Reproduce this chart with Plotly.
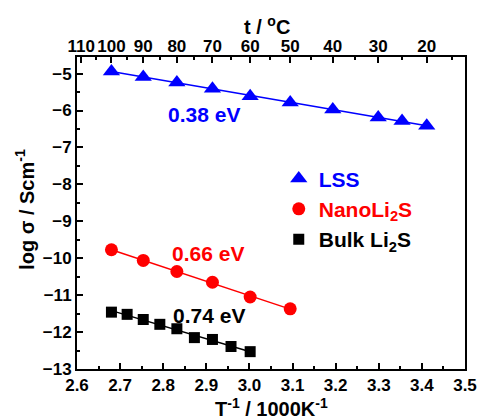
import numpy as np
import plotly.graph_objects as go

# ---- data ----
lss_temp_c = [100, 90, 80, 70, 60, 50, 40, 30, 25, 20]
lss_logsigma = [-4.94, -5.09, -5.24, -5.41, -5.61, -5.78, -5.97, -6.19, -6.28, -6.41]

nano_temp_c = [100, 90, 80, 70, 60, 50]
nano_logsigma = [-9.77, -10.06, -10.36, -10.65, -11.05, -11.37]

bulk_temp_c = [100, 95, 90, 85, 80, 75, 70, 65, 60]
bulk_logsigma = [-11.46, -11.52, -11.66, -11.79, -11.91, -12.15, -12.20, -12.39, -12.53]

top_major_c = [110, 100, 90, 80, 70, 60, 50, 40, 30, 20]
top_minor_c = [105, 95, 85, 75, 65, 55, 45, 35, 25, 15]

ea_labels = ["0.38 eV", "0.66 eV", "0.74 eV"]


def inv_t(tc):
    return [1000.0 / (t + 273.15) for t in tc]


FONT = "Liberation Sans, Arial, sans-serif"
XR = [2.6, 3.5]
YR = [-13, -4.55]

fig = go.Figure()

series = [
    (lss_temp_c, lss_logsigma, "blue", "triangle-up", 15, "LSS"),
    (nano_temp_c, nano_logsigma, "red", "circle", 13, "NanoLi<sub>2</sub>S"),
    (bulk_temp_c, bulk_logsigma, "black", "square", 11, "Bulk Li<sub>2</sub>S"),
]

for i, (tc, ys, col, sym, sz, name) in enumerate(series):
    xs = np.array(inv_t(tc))
    ys = np.array(ys)
    k, b = np.polyfit(xs, ys, 1)
    xl = np.array([xs.min(), xs.max()])
    fig.add_trace(go.Scatter(x=xl, y=k * xl + b, mode="lines",
                             line=dict(color=col, width=1.5),
                             showlegend=False, hoverinfo="skip"))
    fig.add_trace(go.Scatter(x=xs, y=ys, mode="markers",
                             marker=dict(symbol=sym, size=sz, color=col),
                             name=f"<span style='color:{col}'><b>{name}</b></span>"))

# dummy trace for top axis
fig.add_trace(go.Scatter(x=[None], y=[None], xaxis="x2", showlegend=False))

ann_pos = [(2.895, -6.10, "blue"), (2.905, -9.88, "red"), (2.907, -11.55, "black")]
for (ax, ay, col), txt in zip(ann_pos, ea_labels):
    fig.add_annotation(x=ax, y=ay, text=f"<b>{txt}</b>", showarrow=False,
                       font=dict(family=FONT, size=21, color=col))

# axis titles
fig.add_annotation(x=0.5, y=-0.122, xref="paper", yref="paper",
                   xanchor="center", yanchor="middle", showarrow=False,
                   text="<b>T<sup>-1</sup> / 1000K<sup>-1</sup></b>",
                   font=dict(family=FONT, size=20, color="black"))
fig.add_annotation(x=0.49, y=1.10, xref="paper", yref="paper",
                   xanchor="center", yanchor="middle", showarrow=False,
                   text="<b>t / <sup>o</sup>C</b>",
                   font=dict(family=FONT, size=20, color="black"))
fig.add_annotation(x=-0.134, y=0.51, xref="paper", yref="paper",
                   xanchor="center", yanchor="middle", showarrow=False,
                   textangle=-90,
                   text="<b>log σ / Scm<sup>-1</sup></b>",
                   font=dict(family=FONT, size=20, color="black"))

tickfont = dict(family=FONT, size=17, color="black", weight=700)

fig.update_layout(
    width=479, height=420,
    margin=dict(l=77, r=14, t=57, b=51),
    paper_bgcolor="white", plot_bgcolor="white",
    font=dict(family=FONT, color="black"),
    showlegend=True,
    legend=dict(x=0.52, y=0.675, xanchor="left", yanchor="top",
                bgcolor="rgba(0,0,0,0)",
                font=dict(family=FONT, size=21), itemwidth=30),
    xaxis=dict(range=XR, tickmode="linear", tick0=2.6, dtick=0.1,
               tickformat=".1f", tickangle=0, automargin=False,
               tickprefix="<b>", ticksuffix="</b>",
               ticks="inside", ticklen=6, tickwidth=2, tickcolor="black",
               minor=dict(ticks="inside", ticklen=3, tickwidth=2, dtick=0.05, tick0=2.6, tickcolor="black"),
               showline=True, linewidth=2, linecolor="black", mirror=False,
               showgrid=False, zeroline=False, tickfont=tickfont),
    xaxis2=dict(range=XR, overlaying="x", side="top", anchor="y", automargin=False,
                tickmode="array", tickvals=inv_t(top_major_c),
                ticktext=[f"<b>{t}</b>" for t in top_major_c], tickangle=0,
                ticklabelstandoff=-4,
                ticks="inside", ticklen=6, tickwidth=2, tickcolor="black",
                minor=dict(tickmode="array", tickvals=inv_t(top_minor_c),
                           ticks="inside", ticklen=3, tickwidth=2, tickcolor="black"),
                showline=True, linewidth=2, linecolor="black",
                showgrid=False, zeroline=False, tickfont=tickfont),
    yaxis=dict(range=YR, tickmode="linear", tick0=-13, dtick=1, automargin=False,
               tickprefix="<b>", ticksuffix="</b>",
               ticks="inside", ticklen=6, tickwidth=2, tickcolor="black",
               minor=dict(ticks="inside", ticklen=3, tickwidth=2, dtick=0.5, tick0=-13, tickcolor="black"),
               showline=True, linewidth=2, linecolor="black", mirror=True,
               showgrid=False, zeroline=False, tickfont=tickfont),
)

fig.write_html("out.html", config={"displayModeBar": False},
               post_script="document.body.style.margin='0';")
